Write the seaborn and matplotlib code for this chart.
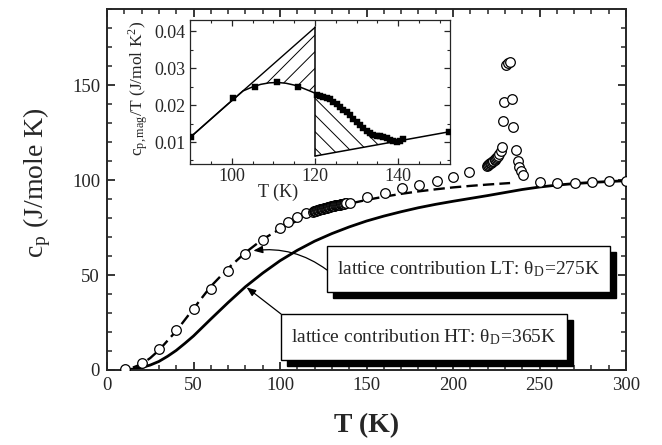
import numpy as np
import pandas as pd
import matplotlib
matplotlib.use("Agg")
import matplotlib.pyplot as plt
import seaborn as sns
from matplotlib.ticker import MultipleLocator, FormatStrFormatter
from matplotlib.patches import Rectangle, Polygon

# ---------------- data ----------------
T_meas = [10.4, 20, 30, 40, 50, 60, 70, 80, 90, 100, 104.6, 110, 115,
          119, 119.5, 120, 120.5, 121, 121.5, 122, 122.5, 123, 123.5, 124, 124.5,
          125, 125.5, 126, 126.5, 127, 127.5, 128, 128.5, 129, 129.5, 130, 130.5,
          131, 131.5, 132, 132.5, 133, 133.5, 134, 134.5, 135, 135.5, 136, 136.5,
          137, 137.5, 138, 140.5,
          150, 160.5, 170.5, 180.5, 190.5, 200, 209.5,
          219.5, 220, 220.5, 221, 221.4, 222, 222.4, 223, 223.3, 224, 224.3, 225, 225.2,
          226, 226.8, 227.5, 228.1,
          229.1, 229.7, 230.6, 231.6, 233, 234.3, 234.9, 236.2, 237.3, 238.3, 239.1, 240.3,
          250.3, 260.3, 270.3, 280.2, 290.2, 300]
cp_meas = [0.5, 3.8, 11, 21, 32, 42.6, 52, 61, 68.4, 75, 78, 80.5, 82.6,
           83.3, 83.45, 83.6, 83.75, 83.9, 84.05, 84.2, 84.35, 84.5, 84.6, 84.7, 84.85,
           85.0, 85.1, 85.2, 85.35, 85.5, 85.6, 85.7, 85.85, 86.0, 86.1, 86.2, 86.3,
           86.4, 86.5, 86.6, 86.7, 86.8, 86.9, 87.0, 87.1, 87.2, 87.3, 87.4, 87.5,
           87.6, 87.7, 87.8, 88.0,
           91.2, 93.3, 95.6, 97.6, 99.3, 101.7, 104.4,
           107.4, 107.8, 108.1, 108.5, 108.8, 109.2, 109.5, 109.9, 110.2, 110.7, 111.0,
           111.6, 111.9, 112.8, 113.7, 115.4, 117.2,
           131, 140.9, 160.5, 161.4, 162.3, 142.6, 128, 115.8, 110.2, 107, 104.9, 102.6,
           98.7, 98.2, 98.6, 98.9, 99.5, 99.5]

T_ht = [12, 15, 20, 25, 30, 35, 40, 45, 50, 60, 70, 80, 90, 100, 110, 120, 130, 140,
        150, 160, 170, 180, 190, 200, 210, 220, 230, 240, 250, 260, 270, 280, 290, 300]
cp_ht = [0.2, 0.5, 1.3, 2.6, 4.5, 7.2, 10.3, 14, 17.9, 26.8, 35.5, 43.8, 51, 57.5, 63, 67.8,
         71.8, 75.3, 78.4, 81, 83.3, 85.4, 87.2, 88.8, 90.3, 91.8, 93.4, 95, 96.3, 97.3,
         98.1, 98.7, 99.2, 99.6]

T_lt = [15, 20, 25, 30, 40, 50, 60, 70, 80, 90, 100, 110, 120, 130, 140, 150, 160,
        170, 180, 190, 200, 210, 220, 233]
cp_lt = [1.3, 3.1, 6.3, 10.4, 20.5, 32.3, 44, 53.5, 61.8, 68.8, 74.2, 78.6, 82.2, 85.1,
         87.5, 89.5, 91.2, 92.7, 94.0, 95.1, 96.1, 96.9, 97.6, 98.4]

lt_arrow_tip = (84.6, 62.8)
ht_arrow_tip = (80.7, 43.5)
lt_label = "lattice contribution LT: θ$_\\mathregular{D}$=275K"
ht_label = "lattice contribution HT: θ$_\\mathregular{D}$=365K"

# inset: c_p,mag / T
ins_sq_T = [90.2, 100.4, 105.6, 110.8, 116.0,
            120.5, 121.2, 122.0, 122.8, 123.6, 124.4, 125.2, 126.0, 126.8, 127.6, 128.4,
            129.2, 130.0, 130.8, 131.6, 132.4, 133.2, 134.0, 134.8, 135.6, 136.4, 137.2,
            138.0, 138.8, 139.6, 140.4, 141.2, 152.2]
ins_sq_v = [0.0114, 0.0218, 0.0248, 0.0262, 0.0249,
            0.0228, 0.0224, 0.0221, 0.0218, 0.0215, 0.0209, 0.0202, 0.0194, 0.0187, 0.0180,
            0.0172, 0.0163, 0.0154, 0.0145, 0.0137, 0.0130, 0.0125, 0.0120, 0.0117, 0.0115,
            0.0113, 0.0110, 0.0106, 0.0103, 0.0101, 0.0104, 0.0109, 0.0127]
ins_curve_T = [90.2, 93, 96, 99, 101, 102.7, 105, 107, 109, 111, 113, 115, 117, 119, 120]
ins_curve_v = [0.0114, 0.0142, 0.0172, 0.0202, 0.0221, 0.0238, 0.0249, 0.0256, 0.0260,
               0.0261, 0.0259, 0.0254, 0.0246, 0.0237, 0.0232]
ins_right_T = [120, 120.5, 122, 124, 126, 128, 130, 132, 134, 136, 138, 139]
ins_right_v = [0.0230, 0.0228, 0.0221, 0.0212, 0.0194, 0.0174, 0.0154, 0.0134, 0.0120,
               0.0114, 0.0106, 0.0101]
ins_line_T = [90.2, 120]          # straight extrapolation
ins_line_v = [0.0114, 0.0410]
ins_base_T = [120, 152.4]         # background line
ins_base_v = [0.0062, 0.0128]
ins_div_T = [120, 120]            # vertical divider
ins_div_v = [0.0062, 0.0410]
ins_tri_T = [120, 120, 136]       # right hatched triangle
ins_tri_v = [0.0062, 0.0230, 0.0094]

# ---------------- style ----------------
sns.set_style("ticks")
plt.rcParams["font.family"] = ["Liberation Serif", "DejaVu Serif"]
plt.rcParams["mathtext.fontset"] = "stix"
plt.rcParams["hatch.linewidth"] = 0.7

W, H = 662, 445
fig = plt.figure(figsize=(W / 100, H / 100), dpi=100)

def fx(px):
    return px / W

def fy(py):
    return 1 - py / H

ax = fig.add_axes([fx(107), fy(370), (626 - 107) / W, (370 - 9) / H])

df_ht = pd.DataFrame({"T": T_ht, "cp": cp_ht})
df_lt = pd.DataFrame({"T": T_lt, "cp": cp_lt})
df_m = pd.DataFrame({"T": T_meas, "cp": cp_meas})

sns.lineplot(data=df_ht, x="T", y="cp", ax=ax, color="black", linewidth=2.0,
             estimator=None, sort=False, zorder=2)
sns.lineplot(data=df_lt, x="T", y="cp", ax=ax, color="black", linewidth=1.7,
             estimator=None, sort=False, linestyle=(0, (4.8, 2.2)), zorder=2)
sns.scatterplot(data=df_m, x="T", y="cp", ax=ax, marker="o", s=48, color="white",
                edgecolor="black", linewidth=0.9, zorder=3)

ax.set_xlim(0, 300)
ax.set_ylim(0, 190)
ax.xaxis.set_major_locator(MultipleLocator(50))
ax.xaxis.set_minor_locator(MultipleLocator(10))
ax.yaxis.set_major_locator(MultipleLocator(50))
ax.yaxis.set_minor_locator(MultipleLocator(10))
ax.tick_params(which="both", direction="in", top=True, right=True, labelsize=13.5)
ax.tick_params(which="major", length=6, width=1.3, pad=5)
ax.tick_params(which="minor", length=3.5, width=1.1)
for sp in ax.spines.values():
    sp.set_linewidth(1.4)
    sp.set_visible(True)
ax.set_xlabel("T (K)", fontsize=20, fontweight="bold", labelpad=14)
ax.set_ylabel(r"c$_\mathregular{p}$ (J/mole K)", fontsize=20)
ax.yaxis.set_label_coords(-0.105, 0.52)

# annotation boxes with drop shadow (figure pixel layout)
def shadow_box(x0, y0, x1, y1, text):
    off = 6
    fig.patches.append(Rectangle((fx(x0 + off), fy(y1 + off)), (x1 - x0) / W, (y1 - y0) / H,
                                 transform=fig.transFigure, facecolor="black",
                                 edgecolor="black", zorder=5))
    fig.patches.append(Rectangle((fx(x0), fy(y1)), (x1 - x0) / W, (y1 - y0) / H,
                                 transform=fig.transFigure, facecolor="white",
                                 edgecolor="black", linewidth=1.0, zorder=6))
    fig.text(fx((x0 + x1) / 2), fy((y0 + y1) / 2), text, ha="center", va="center",
             fontsize=14, zorder=7)

shadow_box(327, 246, 610, 292, lt_label)
shadow_box(281, 314, 567, 360, ht_label)

ax.annotate("", xy=lt_arrow_tip, xycoords="data",
            xytext=(fx(327), fy(270)), textcoords="figure fraction",
            arrowprops=dict(arrowstyle="-|>,head_length=0.55,head_width=0.22",
                            color="black", lw=0.9, shrinkA=0, shrinkB=0,
                            connectionstyle="arc3,rad=0.2"), zorder=4)
ax.annotate("", xy=ht_arrow_tip, xycoords="data",
            xytext=(fx(281), fy(314)), textcoords="figure fraction",
            arrowprops=dict(arrowstyle="-|>,head_length=0.55,head_width=0.22",
                            color="black", lw=0.9, shrinkA=0, shrinkB=0), zorder=4)

# ---------------- inset ----------------
axin = fig.add_axes([fx(190), fy(164), (450 - 190) / W, (164 - 20) / H])
axin.set_facecolor("white")

left_poly = list(zip(ins_curve_T[5:], ins_curve_v[5:])) + [(ins_line_T[1], ins_line_v[1])]
axin.add_patch(Polygon(left_poly, closed=True, facecolor="none", edgecolor="black",
                       hatch="//", linewidth=0, zorder=1))
axin.add_patch(Polygon(list(zip(ins_tri_T, ins_tri_v)), closed=True, facecolor="none",
                       edgecolor="black", hatch="\\\\", linewidth=0, zorder=1))

for xs, ys, lw in [(ins_line_T, ins_line_v, 1.0), (ins_curve_T, ins_curve_v, 1.1),
                   (ins_base_T, ins_base_v, 1.1), (ins_div_T, ins_div_v, 1.1),
                   (ins_right_T, ins_right_v, 1.1)]:
    sns.lineplot(x=xs, y=ys, ax=axin, color="black", linewidth=lw, estimator=None,
                 sort=False, zorder=2)
sns.scatterplot(x=ins_sq_T, y=ins_sq_v, ax=axin, marker="s", s=16, color="black",
                edgecolor="black", linewidth=0.3, zorder=3)

axin.set_xlim(90, 152.4)
axin.set_ylim(0.00405, 0.043)
axin.xaxis.set_major_locator(MultipleLocator(20))
axin.xaxis.set_minor_locator(MultipleLocator(5))
axin.yaxis.set_major_locator(MultipleLocator(0.01))
axin.yaxis.set_minor_locator(MultipleLocator(0.005))
axin.yaxis.set_major_formatter(FormatStrFormatter("%.2f"))
axin.tick_params(which="both", direction="in", top=True, right=True, labelsize=13, pad=3)
axin.tick_params(which="major", length=4, width=0.9)
axin.tick_params(which="minor", length=2.5, width=0.8)
for sp in axin.spines.values():
    sp.set_linewidth(0.9)
    sp.set_visible(True)
axin.set_xlabel("T (K)", fontsize=13)
axin.xaxis.set_label_coords(0.34, -0.14)
axin.set_ylabel(r"c$_\mathregular{p,mag}$/T (J/mol K$^\mathregular{2}$)", fontsize=12.5)
axin.yaxis.set_label_coords(-0.15, 0.53)

fig.savefig("out.png", dpi=100)
